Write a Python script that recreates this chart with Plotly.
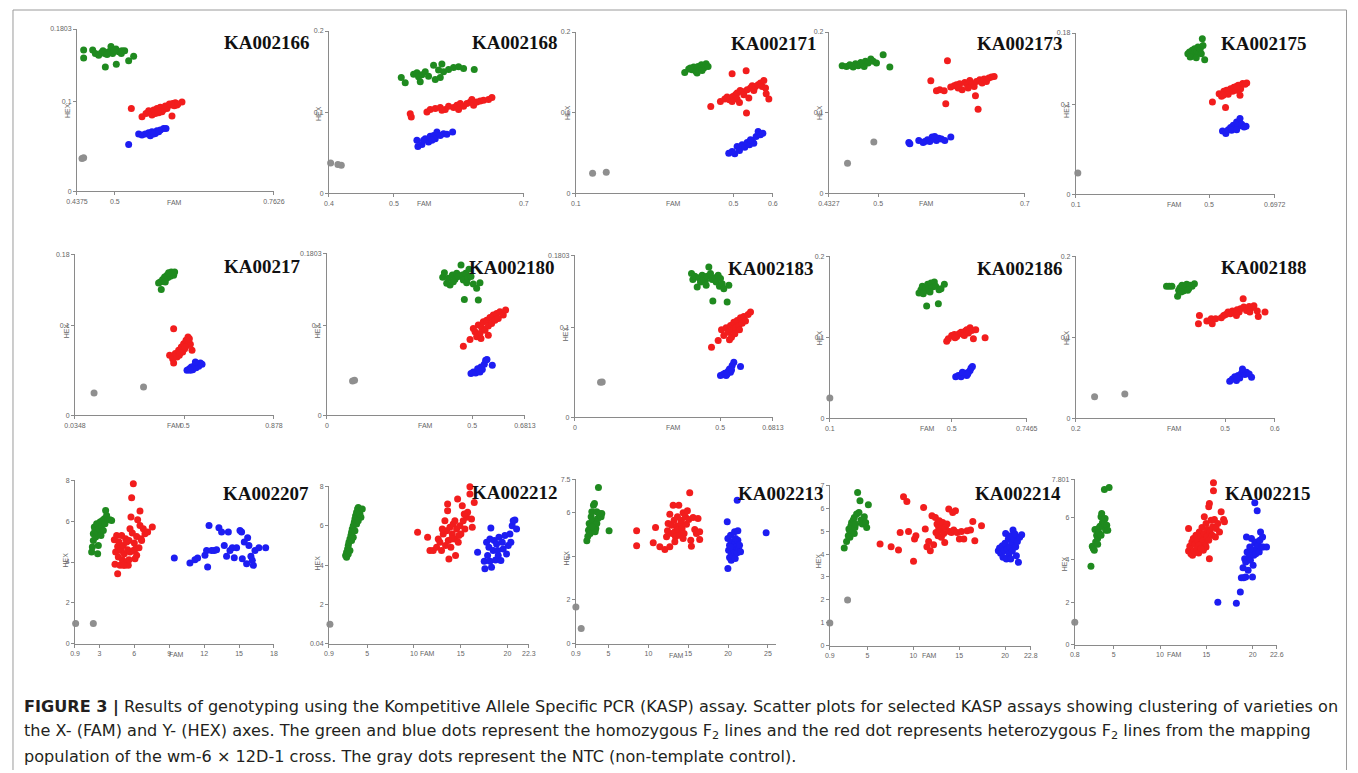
import plotly.graph_objects as go

W, H = 1358, 773

# ---------------- data (FAM = x, HEX = y) ----------------
# KA002166
K2166_GX = [0.4485,0.4485,0.4634,0.4678,0.4733,0.4777,0.4832,0.4843,0.4898,0.4936,0.4963,0.5018,0.5024,0.5063,0.5107,0.5162,0.5228,0.5310,0.4804,0.4871,0.4986,0.5117]
K2166_GY = [0.157,0.148,0.157,0.153,0.151,0.154,0.153,0.138,0.155,0.161,0.153,0.158,0.141,0.155,0.153,0.156,0.145,0.150,0.156,0.152,0.156,0.156]
K2166_RX = [0.5272,0.5448,0.5514,0.5558,0.5613,0.5640,0.5695,0.5723,0.5750,0.5805,0.5833,0.5860,0.5915,0.5943,0.5954,0.5998,0.6025,0.6108,0.5778,0.5668,0.585,0.590,0.571,0.598,0.604]
K2166_RY = [0.0920,0.0828,0.0865,0.0895,0.0846,0.0902,0.0920,0.0872,0.0932,0.0909,0.0947,0.0920,0.0958,0.0835,0.0976,0.0984,0.0958,0.0991,0.0883,0.0865,0.094,0.097,0.089,0.095,0.097]
K2166_BX = [0.5228,0.5393,0.5448,0.5503,0.5558,0.5585,0.5613,0.5668,0.5695,0.5750,0.5805,0.5844,0.5640,0.5723]
K2166_BY = [0.0520,0.0635,0.0624,0.0635,0.0650,0.0616,0.0661,0.0642,0.0672,0.0679,0.0698,0.0698,0.0635,0.0661]
K2166_NX = [0.4458,0.4485]
K2166_NY = [0.0364,0.0371]

# KA002168
K2168_GX = [0.5113,0.5174,0.5303,0.5354,0.5405,0.5431,0.5482,0.5533,0.5610,0.5636,0.5687,0.5713,0.5738,0.5764,0.5841,0.5918,0.5995,0.6072,0.6236,0.5379]
K2168_GY = [0.1427,0.1361,0.1468,0.1485,0.1373,0.1460,0.1497,0.1443,0.1579,0.1402,0.1518,0.1427,0.1592,0.1497,0.1526,0.1550,0.1559,0.1538,0.1526,0.1435]
K2168_RX = [0.5251,0.5267,0.5508,0.5559,0.5636,0.5713,0.5790,0.5841,0.5918,0.5969,0.6021,0.6072,0.6123,0.6174,0.6226,0.6277,0.6328,0.6379,0.6456,0.6508,0.5738,0.5995,0.6200]
K2168_RY = [0.0981,0.0940,0.1002,0.1031,0.1043,0.1056,0.1031,0.1072,0.1056,0.1085,0.1105,0.1072,0.1105,0.1126,0.1085,0.1126,0.1138,0.1146,0.1155,0.1179,0.1023,0.1031,0.1155]
K2168_BX = [0.5354,0.5369,0.5431,0.5482,0.5533,0.5559,0.5610,0.5636,0.5662,0.5713,0.5764,0.5815,0.5903,0.5456,0.5585]
K2168_BY = [0.0652,0.0577,0.0602,0.0672,0.0631,0.0701,0.0713,0.0672,0.0755,0.0713,0.0734,0.0726,0.0755,0.0652,0.0652]
K2168_NX = [0.4026,0.4138,0.4190]
K2168_NY = [0.0371,0.0355,0.0346]

# KA002171
K2171_GX = [0.3763,0.3864,0.3949,0.3992,0.4051,0.4102,0.4136,0.4186,0.4246,0.4305,0.4356,0.4076,0.3907,0.4203]
K2171_GY = [0.1499,0.1540,0.1532,0.1565,0.1511,0.1573,0.1532,0.1594,0.1553,0.1607,0.1573,0.1490,0.1553,0.1524]
K2171_RX = [0.4424,0.4669,0.4780,0.4839,0.4898,0.4966,0.4983,0.5051,0.5093,0.5153,0.5169,0.5220,0.5263,0.5322,0.5331,0.5347,0.5390,0.5432,0.5475,0.5517,0.5559,0.5627,0.5686,0.5729,0.5771,0.5814,0.5831,0.5898,0.5093,0.4966]
K2171_RY = [0.1077,0.1139,0.1168,0.1193,0.1159,0.1482,0.1201,0.1222,0.1242,0.1126,0.1275,0.1263,0.1222,0.1520,0.0994,0.1284,0.1180,0.1304,0.1333,0.1275,0.1325,0.1346,0.1366,0.1325,0.1400,0.1304,0.1234,0.1168,0.1168,0.1139]
K2171_BX = [0.4881,0.4966,0.5034,0.5093,0.5153,0.5220,0.5288,0.5347,0.5407,0.5475,0.5517,0.5576,0.5627,0.5686,0.5746,0.5432]
K2171_BY = [0.0497,0.0518,0.0489,0.0580,0.0530,0.0600,0.0571,0.0629,0.0600,0.0654,0.0621,0.0704,0.0766,0.0725,0.0745,0.0663]
K2171_NX = [0.1424,0.1771]
K2171_NY = [0.0248,0.0261]

# KA002173
K2173_GX = [0.4509,0.4568,0.4613,0.4659,0.4691,0.4727,0.4763,0.4795,0.4827,0.4863,0.4900,0.4932,0.4977,0.5068,0.5159,0.4636,0.4809]
K2173_GY = [0.1582,0.1573,0.1594,0.1565,0.1607,0.1582,0.1623,0.1594,0.1636,0.1615,0.1665,0.1636,0.1615,0.1718,0.1565,0.1582,0.1573]
K2173_RX = [0.5718,0.5795,0.5840,0.5900,0.5922,0.5945,0.5990,0.6036,0.6068,0.6113,0.6145,0.6182,0.6218,0.6250,0.6282,0.6309,0.6327,0.6341,0.6363,0.6386,0.6418,0.6445,0.6477,0.6509,0.6545,0.6582,0.6091,0.6227]
K2173_RY = [0.1395,0.1271,0.1284,0.1271,0.1110,0.1644,0.1317,0.1333,0.1346,0.1358,0.1284,0.1375,0.1342,0.1400,0.1358,0.1325,0.1209,0.1387,0.1043,0.1408,0.1366,0.1416,0.1387,0.1429,0.1441,0.1449,0.1304,0.1304]
K2173_BX = [0.5418,0.5432,0.5554,0.5636,0.5673,0.5704,0.5736,0.5763,0.5795,0.5827,0.5863,0.5909,0.5991,0.5613,0.5772]
K2173_BY = [0.0629,0.0613,0.0654,0.0642,0.0663,0.0642,0.0696,0.0671,0.0654,0.0683,0.0671,0.0654,0.0696,0.0629,0.0704]
K2173_NX = [0.4582,0.4941]
K2173_NY = [0.0373,0.0634]

# KA002175
K2175_GX = [0.4364,0.4414,0.4465,0.4495,0.4535,0.4566,0.4596,0.4636,0.4667,0.4697,0.4737,0.4768,0.4798,0.4818,0.4869,0.4434,0.4616]
K2175_GY = [0.1569,0.1588,0.1540,0.1607,0.1569,0.1625,0.1551,0.1599,0.1644,0.1577,0.1625,0.1569,0.1737,0.1662,0.1502,0.1532,0.1525]
K2175_RX = [0.5101,0.5303,0.5374,0.5444,0.5495,0.5525,0.5576,0.5646,0.5707,0.5747,0.5808,0.5879,0.5929,0.5949,0.6010,0.6081,0.6131,0.5828,0.5424]
K2175_RY = [0.1030,0.1123,0.1093,0.1149,0.0967,0.1160,0.1116,0.1179,0.1149,0.1194,0.1160,0.1216,0.1104,0.1179,0.1235,0.1227,0.1242,0.1205,0.1104]
K2175_BX = [0.5404,0.5505,0.5576,0.5646,0.5727,0.5778,0.5828,0.5879,0.5929,0.5980,0.6051,0.6111,0.5677,0.5828]
K2175_BY = [0.0707,0.0677,0.0721,0.0744,0.0770,0.0733,0.0807,0.0759,0.0844,0.0781,0.0751,0.0759,0.0714,0.0721]
K2175_NX = [0.1061]
K2175_NY = [0.0238]

# KA00217
K217_GX = [0.3891,0.3962,0.4004,0.4061,0.4104,0.4146,0.4203,0.4245,0.4288,0.4345,0.4387,0.4430,0.4486,0.4529,0.4571,0.4175,0.4316]
K217_GY = [0.1480,0.1491,0.1405,0.1517,0.1502,0.1547,0.1528,0.1565,0.1539,0.1584,0.1554,0.1603,0.1584,0.1565,0.1603,0.1491,0.1592]
K217_RX = [0.4359,0.4486,0.4529,0.4529,0.4600,0.4671,0.4741,0.4770,0.4855,0.4911,0.4954,0.4996,0.5053,0.5096,0.5138,0.5167,0.5237,0.5308,0.5195,0.4812,0.5025]
K217_RY = [0.0671,0.0634,0.0585,0.0969,0.0690,0.0652,0.0727,0.0671,0.0764,0.0708,0.0801,0.0745,0.0839,0.0783,0.0876,0.0820,0.0794,0.0727,0.0857,0.0697,0.0764]
K217_BX = [0.5096,0.5195,0.5280,0.5337,0.5422,0.5478,0.5535,0.5592,0.5663,0.5733,0.5237,0.5450]
K217_BY = [0.0503,0.0522,0.0540,0.0511,0.0559,0.0533,0.0578,0.0548,0.0585,0.0570,0.0503,0.0596]
K217_NX = [0.1156,0.3253]
K217_NY = [0.0250,0.0317]

# KA002180
K2180_GX = [0.3985,0.4042,0.4122,0.4180,0.4237,0.4317,0.4409,0.4466,0.4523,0.4615,0.4660,0.4695,0.4729,0.4775,0.4844,0.4889,0.4958,0.5038,0.5153,0.5210,0.5267,0.4351,0.4809]
K2180_GY = [0.1535,0.1587,0.1468,0.1524,0.1450,0.1561,0.1513,0.1580,0.1543,0.1673,0.1561,0.1506,0.1290,0.1580,0.1524,0.1625,0.1543,0.1461,0.1413,0.1283,0.1476,0.1487,0.1476]
K2180_RX = [0.4695,0.4924,0.5038,0.5096,0.5153,0.5210,0.5267,0.5325,0.5382,0.5439,0.5496,0.5554,0.5611,0.5668,0.5725,0.5783,0.5840,0.5897,0.5954,0.6069,0.6149,0.5302,0.5554]
K2180_RY = [0.0770,0.0844,0.0967,0.0929,0.0874,0.1004,0.0911,0.0978,0.1041,0.0948,0.1059,0.0993,0.1089,0.1022,0.1115,0.1059,0.1134,0.1078,0.1152,0.1115,0.1171,0.0855,0.0892]
K2180_BX = [0.4958,0.5038,0.5119,0.5187,0.5233,0.5302,0.5347,0.5416,0.5462,0.5508,0.5691,0.5267]
K2180_BY = [0.0465,0.0483,0.0472,0.0520,0.0494,0.0539,0.0509,0.0569,0.0613,0.0621,0.0558,0.0483]
K2180_NX = [0.0882,0.0950]
K2180_NY = [0.0383,0.0390]

# KA002183
K2183_GX = [0.4014,0.4060,0.4128,0.4209,0.4266,0.4323,0.4381,0.4438,0.4495,0.4553,0.4610,0.4667,0.4725,0.4748,0.4817,0.4862,0.4931,0.4977,0.5069,0.5126,0.5241,0.5298,0.5011,0.4518]
K2183_GY = [0.1599,0.1532,0.1569,0.1450,0.1554,0.1506,0.1580,0.1543,0.1524,0.1569,0.1673,0.1599,0.1532,0.1294,0.1554,0.1506,0.1580,0.1457,0.1487,0.1431,0.1283,0.1468,0.1543,0.1468]
K2183_RX = [0.4702,0.4931,0.5046,0.5126,0.5206,0.5275,0.5321,0.5356,0.5413,0.5470,0.5528,0.5585,0.5642,0.5700,0.5757,0.5814,0.5872,0.5963,0.6044,0.5390,0.5665,0.5505]
K2183_RY = [0.0781,0.0855,0.0974,0.0911,0.0996,0.0948,0.0862,0.1022,0.0967,0.1059,0.0996,0.1078,0.1022,0.1108,0.1048,0.1123,0.1071,0.1145,0.1171,0.0892,0.0974,0.0929]
K2183_BX = [0.5011,0.5092,0.5161,0.5206,0.5275,0.5321,0.5356,0.5413,0.5470,0.5700,0.5241,0.5390]
K2183_BY = [0.0465,0.0476,0.0491,0.0465,0.0513,0.0539,0.0502,0.0576,0.0613,0.0565,0.0483,0.0528]
K2183_NX = [0.0883,0.0940]
K2183_NY = [0.0390,0.0394]

# KA002186
K2186_GX = [0.3926,0.3992,0.4036,0.4101,0.4145,0.4178,0.4211,0.4255,0.4321,0.4364,0.4430,0.4474,0.4562,0.4584,0.4649,0.4759,0.4068,0.4288]
K2186_GY = [0.1546,0.1588,0.1629,0.1571,0.1612,0.1386,0.1654,0.1600,0.1670,0.1621,0.1682,0.1629,0.1414,0.1588,0.1600,0.1654,0.1538,0.1559]
K2186_RX = [0.4836,0.4890,0.5000,0.5088,0.5164,0.5241,0.5307,0.5384,0.5438,0.5493,0.5548,0.5603,0.5658,0.5712,0.5789,0.6096,0.5110,0.5416]
K2186_RY = [0.0953,0.0981,0.1023,0.1035,0.1010,0.1043,0.1064,0.1035,0.1076,0.1093,0.1052,0.1118,0.1085,0.0981,0.1093,0.0994,0.0994,0.1023]
K2186_BX = [0.5132,0.5219,0.5307,0.5384,0.5438,0.5493,0.5548,0.5603,0.5636,0.5680,0.5351,0.5526]
K2186_BY = [0.0515,0.0528,0.0515,0.0540,0.0557,0.0528,0.0569,0.0590,0.0623,0.0639,0.0569,0.0548]
K2186_NX = [0.1000]
K2186_NY = [0.0252]

# KA002188
K2188_GX = [0.3824,0.3878,0.3932,0.4047,0.4068,0.4095,0.4135,0.4162,0.4203,0.4230,0.4270,0.4297,0.4338,0.4385,0.4115,0.4250]
K2188_GY = [0.1629,0.1629,0.1629,0.1505,0.1579,0.1612,0.1641,0.1571,0.1621,0.1654,0.1600,0.1641,0.1629,0.1662,0.1559,0.1579]
K2188_RX = [0.4466,0.4486,0.4635,0.4723,0.4743,0.4811,0.4926,0.4973,0.5014,0.5061,0.5108,0.5149,0.5196,0.5243,0.5284,0.5311,0.5365,0.5378,0.5432,0.5486,0.5534,0.5581,0.5649,0.5669,0.5804,0.5230,0.5500]
K2188_RY = [0.1167,0.1270,0.1200,0.1229,0.1167,0.1229,0.1241,0.1270,0.1282,0.1311,0.1291,0.1324,0.1299,0.1340,0.1311,0.1353,0.1476,0.1373,0.1332,0.1381,0.1365,0.1390,0.1324,0.1258,0.1311,0.1270,0.1311]
K2188_BX = [0.5095,0.5149,0.5196,0.5230,0.5264,0.5297,0.5331,0.5365,0.5399,0.5432,0.5486,0.5534,0.5351,0.5230]
K2188_BY = [0.0458,0.0487,0.0515,0.0466,0.0528,0.0499,0.0557,0.0581,0.0540,0.0569,0.0548,0.0507,0.0610,0.0507]
K2188_NX = [0.2378,0.2986]
K2188_NY = [0.0268,0.0301]

# KA002207
K2207_GX = [2.332,2.390,2.475,2.475,2.561,2.619,2.676,2.762,2.848,2.905,2.962,3.048,3.134,3.192,3.249,3.335,3.421,3.478,3.621,3.707,3.908,4.051,3.535,2.848]
K2207_GY = [4.490,4.735,5.061,5.388,5.714,5.551,5.224,5.878,5.469,4.816,5.633,5.959,5.306,5.796,6.041,5.551,6.122,5.878,6.286,6.073,6.073,6.041,6.531,4.408]
K2207_RX = [4.280,4.337,4.395,4.481,4.567,4.624,4.681,4.767,4.853,4.910,4.968,5.054,5.139,5.197,5.254,5.340,5.426,5.483,5.541,5.626,5.712,5.770,5.827,5.913,5.999,6.056,6.113,6.199,6.285,6.400,6.486,6.572,6.629,6.772,6.915,7.145,7.546,4.567,5.054,5.541,5.340,5.913,6.486,6.199,5.626]
K2207_RY = [5.094,3.886,4.490,5.306,4.767,4.245,4.980,3.837,4.571,5.306,4.114,4.816,4.408,3.837,5.143,4.000,4.604,3.837,5.061,4.490,6.204,7.151,5.420,7.837,4.931,4.163,4.653,5.257,6.073,4.702,5.796,5.143,5.061,5.633,5.388,5.469,5.714,3.429,3.837,4.114,4.980,4.571,6.498,4.327,5.633]
K2207_BX = [9.436,10.78,11.21,11.44,12.07,12.21,12.30,12.42,12.64,12.87,13.07,13.27,13.50,13.73,13.93,14.08,14.22,14.42,14.79,15.08,15.22,15.28,15.45,15.65,15.74,15.85,16.02,16.14,16.23,16.37,16.71,17.29,14.59]
K2207_BY = [4.196,3.951,4.114,4.196,4.327,4.571,3.755,5.796,4.571,4.571,4.604,5.682,5.469,4.816,4.278,5.469,4.571,4.702,4.702,5.551,5.469,4.163,4.980,3.918,5.192,4.816,4.278,4.082,3.837,4.571,4.702,4.702,4.212]
K2207_NX = [0.957,2.475]
K2207_NY = [0.98,0.98]

# KA002212
K2212_GX = [2.683,2.790,2.897,2.968,3.040,3.147,3.254,3.325,3.396,3.503,3.610,3.682,3.753,3.860,3.967,4.038,4.217,4.324,4.466,3.147,3.325,3.503,3.682,3.860,4.038,2.968,2.790]
K2212_GY = [4.500,4.668,4.836,5.005,5.173,5.341,5.510,5.678,5.846,6.014,6.183,6.351,6.519,6.688,6.856,6.940,6.604,6.435,6.856,4.752,5.257,5.425,5.762,6.099,6.267,4.584,4.416]
K2212_RX = [10.39,11.46,11.71,12.06,12.42,12.60,12.78,12.95,13.13,13.31,13.38,13.49,13.60,13.67,13.74,13.85,13.95,14.10,14.20,14.38,14.45,14.56,14.67,14.74,14.92,15.02,15.17,15.27,15.45,15.63,15.74,15.99,15.99,16.16,16.24,16.45,13.03,14.02,14.81,13.60,14.38,15.38]
K2212_RY = [5.678,5.425,4.752,4.752,4.920,5.341,5.173,4.752,5.594,6.267,5.005,5.762,7.108,5.257,4.332,5.930,4.920,5.594,6.099,5.341,4.500,5.846,7.361,5.173,6.014,5.594,7.024,6.267,5.846,6.435,6.688,7.983,7.613,6.351,5.930,7.192,5.846,5.341,5.510,6.772,6.267,6.604]
K2212_BX = [16.81,17.52,17.59,17.77,17.88,18.02,18.13,18.23,18.30,18.48,18.59,18.73,18.84,19.02,19.09,19.30,19.45,19.55,19.73,19.91,20.09,20.27,20.37,20.51,20.62,20.80,20.98,18.13,18.95]
K2212_BY = [4.668,4.214,3.827,5.173,4.500,4.920,4.214,5.897,3.911,4.752,5.257,4.281,5.089,4.500,5.425,4.247,5.173,4.836,5.510,4.584,5.005,5.594,5.173,6.014,6.267,6.300,5.846,5.341,4.752]
K2212_NX = [1.007]
K2212_NY = [1.016]

# KA002213
K2213_GX = [2.275,2.400,2.483,2.567,2.692,2.692,2.817,2.900,2.983,3.108,3.233,3.233,3.317,3.400,3.525,3.650,3.733,3.817,3.942,4.067,4.150,5.067,2.900,3.525]
K2213_GY = [4.695,4.909,5.183,5.488,5.305,5.030,5.793,6.021,5.640,6.326,6.402,5.412,5.107,5.259,5.488,5.716,7.134,5.945,5.869,5.793,5.945,5.152,5.335,6.021]
K2213_RX = [8.525,8.525,10.61,10.90,11.44,12.07,12.28,12.40,12.48,12.69,12.69,12.90,12.98,13.11,13.23,13.32,13.40,13.53,13.65,13.73,13.82,13.94,14.07,14.15,14.23,14.36,14.48,14.65,14.78,14.90,15.07,15.19,15.32,15.40,15.61,15.82,16.03,16.23,16.44,16.44,13.32,14.36]
K2213_RY = [5.152,4.466,4.604,5.305,4.421,4.299,4.878,5.152,5.488,5.915,4.421,5.412,5.030,6.326,5.640,5.107,4.878,5.366,5.793,5.213,6.326,4.954,5.488,5.640,5.259,5.976,5.030,5.793,5.457,6.067,5.671,6.890,4.726,4.451,5.762,5.213,5.030,5.716,5.107,4.756,4.649,4.802]
K2213_BX = [19.90,19.98,19.98,20.07,20.19,20.19,20.32,20.40,20.40,20.48,20.61,20.61,20.73,20.82,20.82,20.90,21.03,21.15,21.23,21.32,21.44,21.57,21.15,21.23,24.78,20.32,20.94]
K2213_BY = [5.564,4.802,3.430,4.268,4.497,3.933,4.954,4.116,3.811,4.649,4.345,3.994,4.268,4.573,5.107,3.887,4.421,4.146,4.726,4.345,4.497,4.192,6.555,5.152,5.061,4.421,4.802]
K2213_NX = [0.900,1.567]
K2213_NY = [1.677,0.686]

# KA002214
K2214_GX = [2.469,2.725,2.907,2.980,3.090,3.199,3.272,3.345,3.455,3.564,3.637,3.710,3.820,3.929,4.075,4.185,4.294,4.440,4.550,4.659,4.805,4.915,5.097,3.090,3.564]
K2214_GY = [4.265,4.556,4.803,5.095,4.993,5.240,5.386,4.949,5.488,5.604,5.167,5.313,5.750,6.696,5.822,6.332,5.488,5.313,5.459,5.633,5.386,5.167,6.157,4.731,4.905]
K2214_RX = [6.374,7.579,8.382,8.564,8.929,9.294,9.477,10.02,10.13,10.28,11.12,11.30,11.48,11.67,11.85,12.03,12.21,12.40,12.47,12.58,12.69,12.76,12.83,12.94,13.05,13.13,13.20,13.31,13.42,13.49,13.67,13.86,13.93,14.15,14.29,14.40,14.59,14.77,15.02,15.24,15.50,15.86,16.23,16.48,16.70,17.43]
K2214_RY = [4.440,4.323,4.178,4.949,6.507,6.303,4.993,3.683,4.658,4.803,6.041,5.095,4.323,4.556,4.148,5.677,4.410,5.604,4.949,5.313,4.803,5.167,5.459,5.051,4.731,5.240,5.386,4.905,4.512,5.167,5.313,5.968,4.993,4.949,5.822,5.051,5.895,4.949,4.658,4.993,4.658,5.022,5.051,5.430,4.585,5.240]
K2214_BX = [19.26,19.40,19.51,19.70,19.77,19.88,19.99,20.14,20.24,20.35,20.43,20.50,20.61,20.72,20.79,20.86,20.97,21.08,21.16,21.23,21.34,21.45,21.59,21.81,20.06,20.61]
K2214_BY = [4.148,4.265,4.032,4.367,3.857,4.148,4.469,3.785,4.221,4.658,4.003,4.323,4.803,4.512,4.148,5.051,4.658,4.876,4.323,3.930,4.556,3.639,4.731,4.847,4.905,3.785]
K2214_NX = [0.900,2.834]
K2214_NY = [0.990,1.994]

# KA002215
K2215_GX = [2.544,2.689,2.798,2.907,2.979,3.052,3.161,3.270,3.343,3.415,3.524,3.633,3.706,3.779,3.851,3.888,3.997,4.069,4.142,4.251,4.360,3.997,4.505,3.270,3.633]
K2215_GY = [3.697,4.645,4.534,4.455,5.434,4.850,5.166,5.008,5.482,5.276,5.592,6.035,6.193,5.750,5.577,5.877,5.719,5.956,5.403,5.640,5.403,7.330,7.425,4.739,5.166]
K2215_RX = [13.08,13.08,13.22,13.33,13.44,13.51,13.59,13.70,13.80,13.88,13.95,14.06,14.17,14.24,14.31,14.42,14.53,14.60,14.68,14.78,14.89,14.97,15.04,15.15,15.26,15.33,15.33,15.40,15.51,15.62,15.69,15.77,15.77,15.87,15.98,16.06,16.24,16.42,16.60,16.86,16.96,14.78,15.26,14.17,14.97,14.42]
K2215_RY = [5.482,4.423,4.645,4.297,4.850,4.218,5.008,4.423,4.739,5.166,4.534,4.929,4.329,5.324,4.692,5.087,5.529,4.897,4.455,5.245,4.692,5.719,5.087,5.434,4.929,4.060,6.667,5.324,5.877,5.166,5.561,7.646,7.267,5.908,5.087,5.482,5.719,5.324,6.272,5.908,5.798,6.035,6.509,4.692,4.613,4.534]
K2215_BX = [16.24,18.24,18.67,18.78,18.96,19.03,19.14,19.25,19.33,19.40,19.51,19.62,19.69,19.76,19.87,19.98,20.05,20.12,20.23,20.34,20.41,20.49,20.60,20.71,20.78,20.85,20.96,21.07,21.14,21.50,20.23,20.49,19.98,19.25]
K2215_BY = [2.006,1.959,2.480,3.160,3.633,3.160,4.060,3.902,5.087,4.376,3.507,4.171,4.613,3.981,5.008,4.455,3.744,4.218,4.771,4.297,4.850,4.534,4.692,4.376,4.929,5.324,4.613,5.087,4.613,4.613,6.698,6.319,3.191,3.191]
K2215_NX = [0.800]
K2215_NY = [1.058]

# panel names and axis ticks
NAMES = ["KA002166", "KA002168", "KA002171", "KA002173", "KA002175",
         "KA00217", "KA002180", "KA002183", "KA002186", "KA002188",
         "KA002207", "KA002212", "KA002213", "KA002214", "KA002215"]
X_TICKS = [[0.4375, 0.5, 0.7626], [0.4, 0.5, 0.7], [0.1, 0.5, 0.6], [0.4327, 0.5, 0.7], [0.1, 0.5, 0.6972],
           [0.0348, 0.5, 0.878], [0, 0.5, 0.6813], [0, 0.5, 0.6813], [0.1, 0.5, 0.7465], [0.2, 0.5, 0.6],
           [0.9, 3, 6, 9, 12, 15, 18], [0.9, 5, 10, 15, 20, 22.3], [0.9, 5, 10, 15, 20, 25],
           [0.9, 5, 10, 15, 20, 22.8], [0.8, 5, 10, 15, 20, 22.6]]
Y_TICKS = [[0, 0.1, 0.1803], [0, 0.1, 0.2], [0, 0.1, 0.2], [0, 0.1, 0.2], [0, 0.1, 0.18],
           [0, 0.1, 0.18], [0, 0.1, 0.1803], [0, 0.1, 0.1803], [0, 0.1, 0.2], [0, 0.1, 0.2],
           [0, 2, 4, 6, 8], [0.04, 2, 4, 6, 8], [0, 2, 4, 6, 7.5], [0, 1, 2, 3, 4, 5, 6, 7], [0, 2, 4, 6, 7.801]]
X_RANGES = [[0.4375, 0.7626], [0.4, 0.7], [0.1, 0.6], [0.4327, 0.7], [0.1, 0.6972],
            [0.0348, 0.878], [0, 0.6813], [0, 0.6813], [0.1, 0.7465], [0.2, 0.6],
            [0.9, 18], [0.9, 22.3], [0.9, 26], [0.9, 22.8], [0.8, 22.6]]
Y_RANGES = [[0, 0.1803], [0, 0.2], [0, 0.2], [0, 0.2], [0, 0.18],
            [0, 0.18], [0, 0.1803], [0, 0.1803], [0, 0.2], [0, 0.2],
            [0, 8], [0.04, 8], [0, 7.5], [0, 7], [0, 7.801]]

DATA = [
    (K2166_GX, K2166_GY, K2166_RX, K2166_RY, K2166_BX, K2166_BY, K2166_NX, K2166_NY),
    (K2168_GX, K2168_GY, K2168_RX, K2168_RY, K2168_BX, K2168_BY, K2168_NX, K2168_NY),
    (K2171_GX, K2171_GY, K2171_RX, K2171_RY, K2171_BX, K2171_BY, K2171_NX, K2171_NY),
    (K2173_GX, K2173_GY, K2173_RX, K2173_RY, K2173_BX, K2173_BY, K2173_NX, K2173_NY),
    (K2175_GX, K2175_GY, K2175_RX, K2175_RY, K2175_BX, K2175_BY, K2175_NX, K2175_NY),
    (K217_GX, K217_GY, K217_RX, K217_RY, K217_BX, K217_BY, K217_NX, K217_NY),
    (K2180_GX, K2180_GY, K2180_RX, K2180_RY, K2180_BX, K2180_BY, K2180_NX, K2180_NY),
    (K2183_GX, K2183_GY, K2183_RX, K2183_RY, K2183_BX, K2183_BY, K2183_NX, K2183_NY),
    (K2186_GX, K2186_GY, K2186_RX, K2186_RY, K2186_BX, K2186_BY, K2186_NX, K2186_NY),
    (K2188_GX, K2188_GY, K2188_RX, K2188_RY, K2188_BX, K2188_BY, K2188_NX, K2188_NY),
    (K2207_GX, K2207_GY, K2207_RX, K2207_RY, K2207_BX, K2207_BY, K2207_NX, K2207_NY),
    (K2212_GX, K2212_GY, K2212_RX, K2212_RY, K2212_BX, K2212_BY, K2212_NX, K2212_NY),
    (K2213_GX, K2213_GY, K2213_RX, K2213_RY, K2213_BX, K2213_BY, K2213_NX, K2213_NY),
    (K2214_GX, K2214_GY, K2214_RX, K2214_RY, K2214_BX, K2214_BY, K2214_NX, K2214_NY),
    (K2215_GX, K2215_GY, K2215_RX, K2215_RY, K2215_BX, K2215_BY, K2215_NX, K2215_NY),
]

CAPTION = [
    "<b>FIGURE 3 |</b> Results of genotyping using the Kompetitive Allele Specific PCR (KASP) assay. Scatter plots for selected KASP assays showing clustering of varieties on",
    "the X- (FAM) and Y- (HEX) axes. The green and blue dots represent the homozygous F<sub>2</sub> lines and the red dot represents heterozygous F<sub>2</sub> lines from the mapping",
    "population of the wm-6 \u00d7 12D-1 cross. The gray dots represent the NTC (non-template control).",
]

# ---------------- layout (pixel geometry of the reference) ----------------
# plot boxes: (left, right, top, bottom) in reference pixels
BOXES = [(75, 272, 29, 191), (327, 522, 31, 193), (574, 771, 32, 193), (827, 1023, 32, 193), (1074, 1273, 33, 194),
         (73, 272, 254, 415), (325, 523, 253, 415), (573, 771, 255, 417), (828, 1025, 256, 418), (1074, 1273, 256, 418),
         (73, 272, 480, 643), (327, 527, 486, 643), (574, 774, 479, 643), (828, 1029, 485, 645), (1073, 1275, 479, 644)]
TITLE_POS = [(309, 42), (557, 42), (816, 43), (1062, 43), (1306, 43),
             (300, 266), (554, 267), (813, 268), (1062, 268), (1306, 267),
             (308, 493), (557, 492), (823, 493), (1060, 493), (1310, 493)]
FAM_POS = [(173, 202), (423, 203), (672, 203), (925, 203), (1173, 204),
           (173, 425), (424, 425), (672, 427), (926, 428), (1173, 428),
           (175, 654), (426, 653), (675, 655), (928, 655), (1173, 654)]
HEX_POS = [(65, 110), (316, 113), (565, 112), (817, 112), (1064, 110),
           (64, 330), (315, 330), (563, 333), (817, 337), (1065, 337),
           (64, 559), (316, 562), (565, 557), (817, 560), (1063, 563)]

# calibration of the photographed page (observed offset / scale of the capture)
OX, SX = 9.0, 0.984
OY, SY = 4.0, 0.990

COLORS = ["#1f8a1f", "#f21d1d", "#1d1df2", "#8f8f8f"]
AXIS_COLOR = "#8a8a8a"
TICK_FONT = dict(family="Liberation Sans", size=7, color="#666666")


def px(x):
    v = (x - OX) / SX / W
    return min(max(v, 0.0), 1.0)


def py(y):
    v = 1 - (y - OY) / SY / H
    return min(max(v, 0.0), 1.0)


def fmt(v):
    return ("%g" % v)


fig = go.Figure()
annotations = []

for i in range(15):
    n = "" if i == 0 else str(i + 1)
    xa, ya = "x" + n, "y" + n
    gx, gy, rx, ry, bx, by, nx, ny = DATA[i]
    for (xs, ys, c) in [(gx, gy, COLORS[0]), (rx, ry, COLORS[1]), (bx, by, COLORS[2]), (nx, ny, COLORS[3])]:
        fig.add_trace(go.Scatter(x=xs, y=ys, mode="markers", xaxis=xa, yaxis=ya,
                                 marker=dict(color=c, size=7, line=dict(width=0)),
                                 cliponaxis=False, showlegend=False, hoverinfo="x+y"))
    l, r, t, b = BOXES[i]
    common = dict(showgrid=False, zeroline=False, showline=True, linecolor=AXIS_COLOR, linewidth=1,
                  ticks="outside", ticklen=3, tickwidth=1, tickcolor=AXIS_COLOR, tickfont=TICK_FONT,
                  fixedrange=True)
    fig.layout["xaxis" + n] = dict(domain=[px(l), px(r)], anchor=ya, range=X_RANGES[i],
                                   tickmode="array", tickvals=X_TICKS[i],
                                   ticktext=[fmt(v) for v in X_TICKS[i]], **common)
    fig.layout["yaxis" + n] = dict(domain=[py(b), py(t)], anchor=xa, range=Y_RANGES[i],
                                   tickmode="array", tickvals=Y_TICKS[i],
                                   ticktext=[fmt(v) for v in Y_TICKS[i]], **common)
    tx, ty = TITLE_POS[i]
    annotations.append(dict(text="<b>" + NAMES[i] + "</b>", x=px(tx), y=py(ty), xref="paper", yref="paper",
                            xanchor="right", yanchor="middle", showarrow=False, borderpad=0,
                            font=dict(family="Liberation Serif", size=19, color="#111111")))
    fx, fy = FAM_POS[i]
    annotations.append(dict(text="FAM", x=px(fx), y=py(fy), xref="paper", yref="paper",
                            xanchor="center", yanchor="middle", showarrow=False,
                            font=dict(family="Liberation Sans", size=7, color="#666666")))
    hx, hy = HEX_POS[i]
    annotations.append(dict(text="HEX", x=px(hx), y=py(hy), xref="paper", yref="paper",
                            xanchor="center", yanchor="middle", showarrow=False, textangle=-90,
                            font=dict(family="Liberation Sans", size=7, color="#666666")))

for k, line in enumerate(CAPTION):
    annotations.append(dict(text=line, x=px(21), y=py(706 + 25 * k), xref="paper", yref="paper",
                            xanchor="left", yanchor="middle", showarrow=False, align="left", borderpad=0,
                            font=dict(family="DejaVu Sans", size=16.1, color="#231f20")))

fig.update_layout(
    width=W, height=H, margin=dict(l=0, r=0, t=0, b=0),
    paper_bgcolor="white", plot_bgcolor="white",
    annotations=annotations,
    # outer frame: open at the bottom (it runs off the page in the reference)
    shapes=[
        dict(type="line", xref="paper", yref="paper", x0=px(11), x1=1357.5 / W, y0=py(10), y1=py(10),
             line=dict(color="#9a9a9a", width=1)),
        dict(type="line", xref="paper", yref="paper", x0=px(11), x1=px(11), y0=py(10), y1=0.0,
             line=dict(color="#9a9a9a", width=1)),
        dict(type="line", xref="paper", yref="paper", x0=1357.5 / W, x1=1357.5 / W, y0=py(10), y1=0.0,
             line=dict(color="#9a9a9a", width=1)),
    ],
)

FIT_JS = (
    "var de=document.documentElement, bd=document.body;"
    "de.style.margin='0';de.style.padding='0';de.style.overflow='hidden';"
    "bd.style.margin='0';bd.style.padding='0';bd.style.overflow='hidden';"
)

fig.write_html("out.html", config={"displayModeBar": False}, post_script=FIT_JS)
